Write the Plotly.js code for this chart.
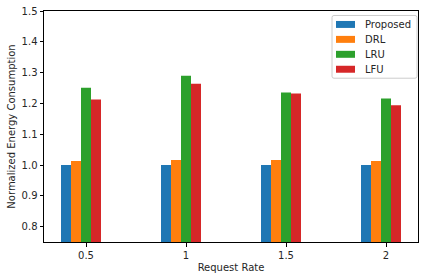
<!DOCTYPE html>
<html><head><meta charset="utf-8">
<script src="https://cdn.plot.ly/plotly-3.0.1.min.js"></script>
<style>html,body{margin:0;padding:0;background:#fff}#c{width:424px;height:280px}</style>
</head><body><div id="c"></div>
<script>
const categories = ["0.5", "1", "1.5", "2"];
const seriesNames = ["Proposed", "DRL", "LRU", "LFU"];
const proposed = [1.0, 1.0, 1.0, 1.0];
const drl = [1.013, 1.016, 1.016, 1.013];
const lru = [1.251, 1.29, 1.235, 1.216];
const lfu = [1.213, 1.264, 1.232, 1.194];
const colors = ["#1f77b4", "#ff7f0e", "#2ca02c", "#d62728"];
const offsets = [-0.25, -0.15, -0.05, 0.05];
const barWidth = 0.1;

const idx = categories.map((_, i) => i);
const allSeries = [proposed, drl, lru, lfu];
const traces = allSeries.map((vals, k) => ({
  type: "bar",
  name: seriesNames[k],
  x: idx,
  y: vals,
  offset: offsets[k],
  width: barWidth,
  marker: {color: colors[k], line: {width: 0}},
  hoverinfo: "skip",
  showlegend: false
}));

// plot area in pixels (for the matplotlib-style legend box)
const M = {l: 44, r: 6, t: 10.5, b: 37.5};
const W = 424, H = 280;
const pw = W - M.l - M.r, ph = H - M.t - M.b;
const px = v => (v - M.l) / pw;
const py = v => (H - M.b - v) / ph;

function roundRect(x0, y0, x1, y1, r) {
  const X = v => px(v), Y = v => py(v);
  return `M ${X(x0 + r)} ${Y(y0)} L ${X(x1 - r)} ${Y(y0)} Q ${X(x1)} ${Y(y0)} ${X(x1)} ${Y(y0 + r)} ` +
         `L ${X(x1)} ${Y(y1 - r)} Q ${X(x1)} ${Y(y1)} ${X(x1 - r)} ${Y(y1)} L ${X(x0 + r)} ${Y(y1)} ` +
         `Q ${X(x0)} ${Y(y1)} ${X(x0)} ${Y(y1 - r)} L ${X(x0)} ${Y(y0 + r)} Q ${X(x0)} ${Y(y0)} ${X(x0 + r)} ${Y(y0)} Z`;
}

const legBox = {x0: 332, y0: 15, x1: 417, y1: 78};
const rowY = [24, 39, 54, 69];
const shapes = [{
  type: "path", xref: "paper", yref: "paper",
  path: roundRect(legBox.x0, legBox.y0, legBox.x1, legBox.y1, 2),
  fillcolor: "rgba(255,255,255,0.8)", line: {color: "#cccccc", width: 1}
}];
const annotations = [];
seriesNames.forEach((name, k) => {
  shapes.push({
    type: "rect", xref: "paper", yref: "paper",
    x0: px(336), x1: px(355), y0: py(rowY[k] - 3.5), y1: py(rowY[k] + 3.5),
    fillcolor: colors[k], line: {width: 0}
  });
  annotations.push({
    xref: "paper", yref: "paper", x: px(363), y: py(rowY[k]),
    xanchor: "left", yanchor: "middle", text: name, showarrow: false,
    font: {family: "DejaVu Sans, sans-serif", size: 10, color: "#262626"}
  });
});

const font = {family: "DejaVu Sans, sans-serif", size: 10, color: "#262626"};
const layout = {
  width: W, height: H,
  margin: {l: M.l, r: M.r, t: M.t, b: M.b, pad: 0},
  paper_bgcolor: "#fff", plot_bgcolor: "#fff",
  font: font,
  barmode: "overlay",
  showlegend: false,
  shapes: shapes,
  annotations: annotations,
  xaxis: {
    range: [-0.42, 3.32],
    tickmode: "array", tickvals: idx, ticktext: categories,
    showgrid: false, zeroline: false,
    showline: true, mirror: true, linecolor: "#000", linewidth: 1,
    ticks: "outside", ticklen: 3.5, tickwidth: 1, tickcolor: "#000",
    title: {text: "Request Rate", font: font, standoff: 4}
  },
  yaxis: {
    range: [0.75, 1.5],
    tickmode: "array", tickvals: [0.8, 0.9, 1.0, 1.1, 1.2, 1.3, 1.4, 1.5],
    tickformat: ".1f",
    showgrid: false, zeroline: false,
    showline: true, mirror: true, linecolor: "#000", linewidth: 1,
    ticks: "outside", ticklen: 3.5, tickwidth: 1, tickcolor: "#000",
    title: {text: "Normalized Energy Consumption", font: font, standoff: 4}
  }
};
Plotly.newPlot("c", traces, layout, {staticPlot: true, displayModeBar: false});
</script></body></html>
